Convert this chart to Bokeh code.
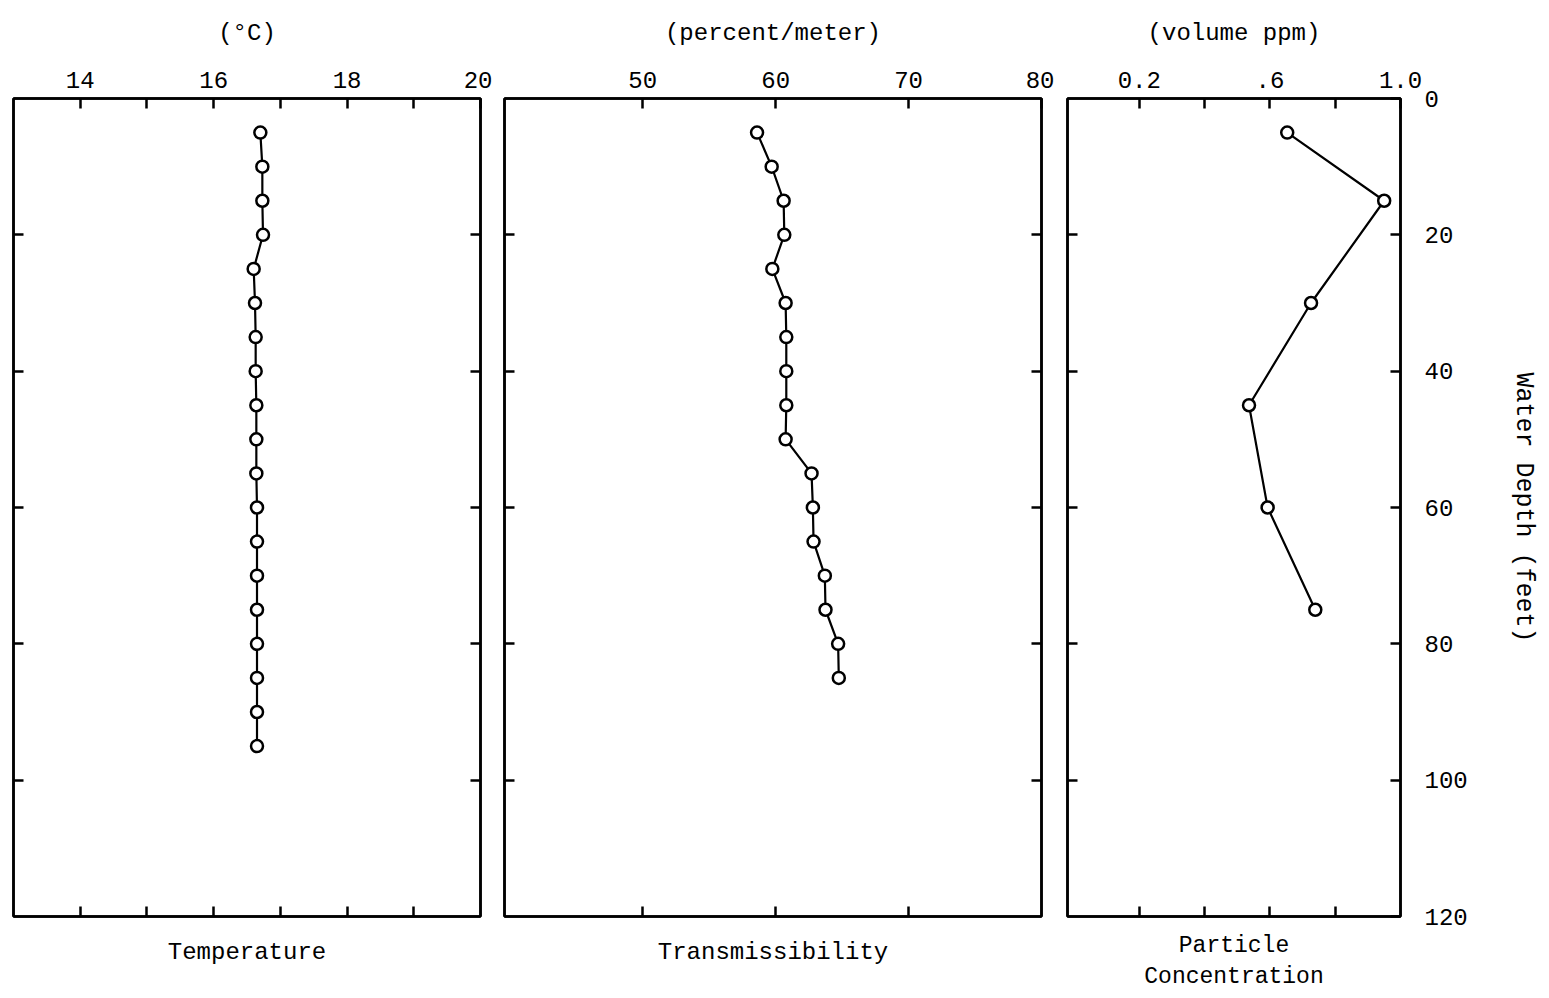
from bokeh.plotting import figure
from bokeh.models import Range1d, FixedTicker, LinearAxis
from bokeh.layouts import row
from bokeh.embed import file_html
from bokeh.resources import INLINE

# ---- data ----
depth_temp = [5, 10, 15, 20, 25, 30, 35, 40, 45, 50, 55, 60, 65, 70, 75, 80, 85, 90, 95]
temperature = [16.70, 16.73, 16.73, 16.74, 16.60, 16.62, 16.63, 16.63, 16.64, 16.64,
               16.64, 16.65, 16.65, 16.65, 16.65, 16.65, 16.65, 16.65, 16.65]

depth_trans = [5, 10, 15, 20, 25, 30, 35, 40, 45, 50, 55, 60, 65, 70, 75, 80, 85]
transmissibility = [58.6, 59.7, 60.6, 60.65, 59.75, 60.75, 60.8, 60.8, 60.8, 60.75,
                    62.7, 62.8, 62.85, 63.7, 63.75, 64.7, 64.75]

depth_part = [5, 15, 30, 45, 60, 75]
particle = [0.653, 0.95, 0.726, 0.536, 0.593, 0.739]

temp_ticks = [14, 15, 16, 17, 18, 19, 20]
temp_labels = {14: "14", 15: "", 16: "16", 17: "", 18: "18", 19: "", 20: "20"}
trans_ticks = [50, 60, 70, 80]
trans_labels = {50: "50", 60: "60", 70: "70", 80: "80"}
part_ticks = [0.2, 0.4, 0.6, 0.8, 1.0]
part_labels = {0.2: "0.2", 0.4: "", 0.6: ".6", 0.8: "", 1.0: "1.0"}
depth_ticks = [0, 20, 40, 60, 80, 100, 120]
inner_depth_ticks = [20, 40, 60, 80, 100]

FONT = "Liberation Mono"
LW = 2.5


def style_axis(ax):
    ax.axis_line_color = "black"
    ax.axis_line_width = LW
    ax.major_tick_in = 10
    ax.major_tick_out = 0
    ax.major_tick_line_color = "black"
    ax.major_tick_line_width = LW
    ax.minor_tick_line_color = None
    ax.major_label_text_font = FONT
    ax.major_label_text_color = "black"
    ax.axis_label_text_font = FONT
    ax.axis_label_text_font_style = "normal"
    ax.axis_label_text_color = "black"
    ax.axis_label_text_font_size = "24px"


def hide_labels(ax, ticks):
    ax.major_label_overrides = {t: "" for t in ticks}
    ax.major_label_text_color = None
    ax.major_label_text_font_size = "1px"
    ax.major_label_standoff = 0


def make_panel(xr, frame_w, mbl, mbr, top_ticks, top_labels, bottom_ticks,
               top_title, bottom_title, xs, ys, show_depth=False, bottom_standoff=22,
               bottom_font="24px"):
    p = figure(frame_width=frame_w, frame_height=818,
               x_range=Range1d(*xr), y_range=Range1d(120, 0),
               x_axis_location=None, y_axis_location=None,
               toolbar_location=None, output_backend="svg",
               min_border_left=mbl, min_border_right=mbr,
               min_border_top=98, min_border_bottom=40)
    p.grid.visible = False
    p.outline_line_color = "black"
    p.outline_line_width = LW
    p.background_fill_color = "white"
    p.border_fill_color = "white"

    top = LinearAxis(ticker=FixedTicker(ticks=top_ticks),
                     major_label_overrides=top_labels, axis_label=top_title)
    style_axis(top)
    top.major_label_text_font_size = "24px"
    top.major_label_standoff = 11
    top.axis_label_standoff = 22
    p.add_layout(top, "above")

    bottom = LinearAxis(ticker=FixedTicker(ticks=bottom_ticks), axis_label=bottom_title)
    style_axis(bottom)
    hide_labels(bottom, bottom_ticks)
    bottom.axis_label_standoff = bottom_standoff
    bottom.axis_label_text_font_size = bottom_font
    p.add_layout(bottom, "below")

    left = LinearAxis(ticker=FixedTicker(ticks=inner_depth_ticks))
    style_axis(left)
    hide_labels(left, inner_depth_ticks)
    p.add_layout(left, "left")

    if show_depth:
        right = LinearAxis(ticker=FixedTicker(ticks=depth_ticks), axis_label="Water Depth (feet)")
        style_axis(right)
        right.major_label_text_font_size = "24px"
        right.major_label_standoff = 24
        right.axis_label_standoff = 38
        right.axis_label_text_font_size = "25px"
    else:
        right = LinearAxis(ticker=FixedTicker(ticks=inner_depth_ticks))
        style_axis(right)
        hide_labels(right, inner_depth_ticks)
    p.add_layout(right, "right")

    p.line(xs, ys, line_color="black", line_width=2.2)
    p.scatter(xs, ys, size=12, fill_color="white", line_color="black", line_width=2.5)
    return p


p1 = make_panel((13, 20), 467, 13, 12, temp_ticks, temp_labels, [14, 15, 16, 17, 18, 19],
                "(\u00b0C)", "Temperature", temperature, depth_temp)
p2 = make_panel((39.6, 80), 537, 12, 13, trans_ticks, trans_labels, [50, 60, 70],
                "(percent/meter)", "Transmissibility", transmissibility, depth_trans)
p3 = make_panel((-0.02, 1.0), 333, 13, 20, part_ticks, part_labels, [0.2, 0.4, 0.6, 0.8],
                "(volume ppm)", "Particle\nConcentration", particle, depth_part,
                show_depth=True, bottom_standoff=16, bottom_font="23px")

layout = row(p1, p2, p3, spacing=0)
open("out.html", "w").write(file_html(layout, INLINE))
